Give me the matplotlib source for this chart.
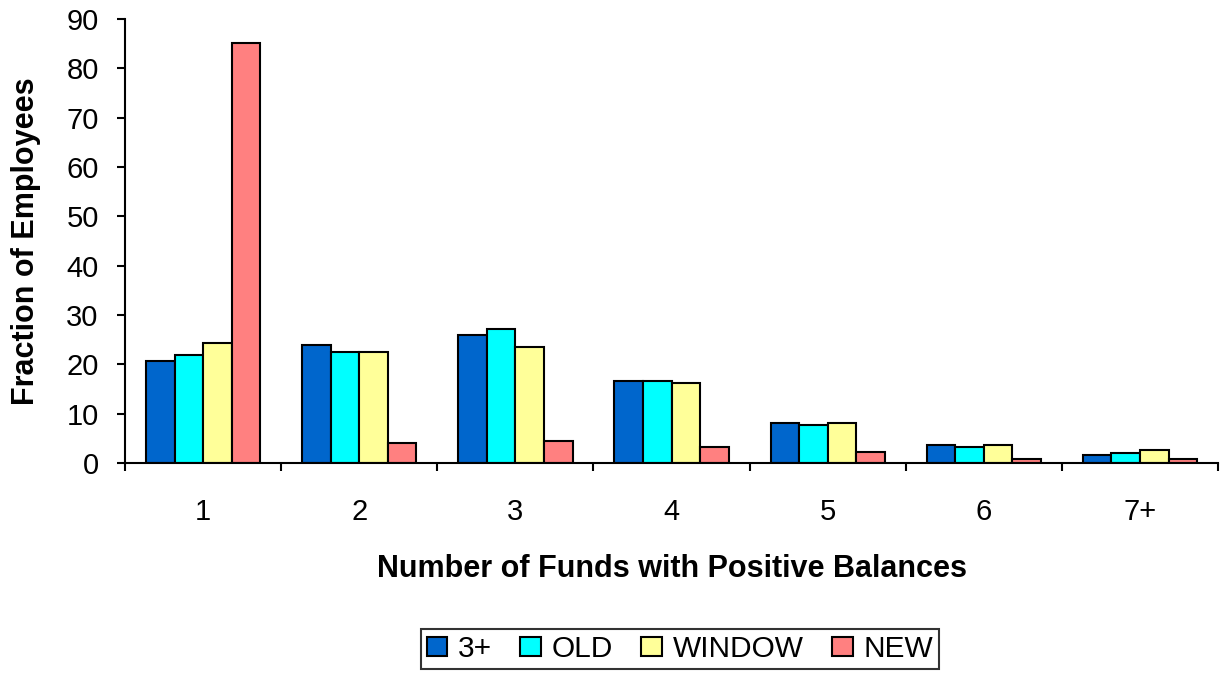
import matplotlib
matplotlib.use("Agg")
import matplotlib.pyplot as plt
import numpy as np

plt.rcParams['font.family'] = ['Liberation Sans', 'DejaVu Sans']

categories = ["1", "2", "3", "4", "5", "6", "7+"]
series_names = ["3+", "OLD", "WINDOW", "NEW"]
s_3plus = [20.7, 23.9, 26.0, 16.7, 8.2, 3.7, 1.7]
s_old = [21.9, 22.4, 27.2, 16.7, 7.8, 3.3, 2.1]
s_window = [24.4, 22.4, 23.6, 16.3, 8.2, 3.7, 2.6]
s_new = [85.2, 4.0, 4.5, 3.3, 2.2, 0.9, 0.9]
colors = ["#0066CC", "#00FFFF", "#FFFF99", "#FF8080"]

fig = plt.figure(figsize=(12.26, 6.73), dpi=100)
ax = fig.add_axes([0.102, 0.312, 0.8915, 0.66])

x = np.arange(len(categories))
w = 0.183
all_series = [s_3plus, s_old, s_window, s_new]
for i, (vals, name, c) in enumerate(zip(all_series, series_names, colors)):
    ax.bar(x + (i - 1.5) * w, vals, w, color=c, edgecolor="black", linewidth=1.5, label=name)

ax.set_xlim(-0.5, len(categories) - 0.5)
ax.set_ylim(0, 90)
ax.set_yticks(np.arange(0, 91, 10))
ax.set_xticks(x)
ax.set_xticklabels(categories)
ax.set_xticks(np.arange(-0.5, len(categories) + 0.5, 1), minor=True)
ax.tick_params(axis='x', which='major', length=0, labelsize=21, pad=25)
ax.tick_params(axis='x', which='minor', length=6, width=1.5, direction='out')
ax.tick_params(axis='y', labelsize=21, length=6, width=1.5, direction='out', pad=13)
for s in ["top", "right"]:
    ax.spines[s].set_visible(False)
for s in ["left", "bottom"]:
    ax.spines[s].set_linewidth(1.5)

ax.set_xlabel("Number of Funds with Positive Balances", fontsize=22, fontweight='bold', labelpad=20)
ax.set_ylabel("Fraction of Employees", fontsize=22, fontweight='bold', labelpad=18)

leg = fig.legend(loc='center', bbox_to_anchor=(0.5546, 0.036), ncol=4, fontsize=21.5,
                 frameon=True, fancybox=False, edgecolor='black', handlelength=0.7,
                 handleheight=0.62, handletextpad=0.35, columnspacing=0.95, borderpad=0.2,
                 borderaxespad=0)
leg.get_frame().set_linewidth(1.5)

fig.savefig("out.png", dpi=100)
